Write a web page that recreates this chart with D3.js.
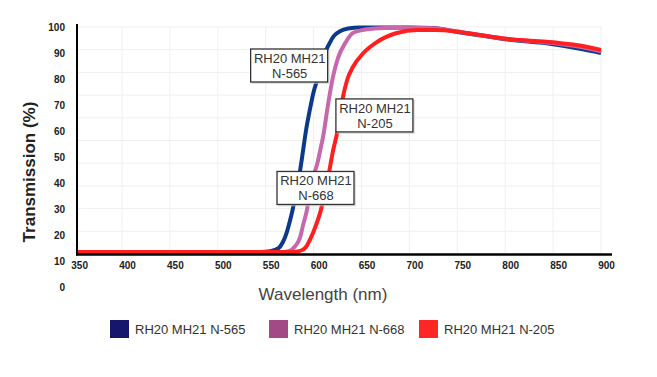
<!DOCTYPE html>
<html>
<head>
<meta charset="utf-8">
<script src="https://cdn.jsdelivr.net/npm/d3@7"></script>
<style>
  html, body { margin: 0; padding: 0; background: #fff; }
  svg { display: block; font-family: Arial, "Liberation Sans", sans-serif; }
</style>
</head>
<body>
<script>
// series names and colours
const seriesNames = ['RH20 MH21 N-565', 'RH20 MH21 N-668', 'RH20 MH21 N-205'];
const lineColors = ['#0b3a8c', '#c768ad', '#ff1f1f'];
const legendColors = ['#16166c', '#a34a86', '#ff2626'];

// wavelength (nm) / transmission (%)
const n565 = [[350,13.5],[545,13.5],[555,13.8],[563,14.8],[568,17.3],[572,21],[575,25],[578,29.5],[582,37],
  [586,45],[589,52.5],[592,60],[596,68],[600,75],[605,81],[609,86.5],[613,91],[617,94],[621,96.5],[628,98.5],
  [636,99.4],[648,99.8],[700,99.8],[725,99.6],[750,98.1],[775,96.7],[800,95.3],[850,93.4],[878,91.6],[900,90]];
const n668 = [[350,13.5],[568,13.5],[575,13.9],[580,15.4],[586,19.2],[589,23.8],[593,29.6],[596,36.5],[599,41.9],
  [603.5,46.9],[607,52.7],[610,58],[615,70],[620,80.4],[625.5,88.1],[633,93.8],[641,97.7],[654,99],[675,99.6],
  [700,99.7],[725,99.5],[750,98.3],[775,96.8],[800,95.5],[850,93.8],[878,92.4],[900,90.7]];
const n205 = [[350,13.5],[577,13.5],[586,13.9],[592,15.4],[597,18.8],[602.5,23.8],[607,28.8],[611,35],[616,43.8],
  [620,51.9],[624.5,59.2],[630,71.9],[635,79.6],[641,84.6],[652,90],[666,94.2],[687,97.7],[708,98.8],[727,98.8],
  [748,98.3],[774,96.9],[798,95.6],[850,94.1],[878,92.9],[900,91.2]];
const seriesData = [n565, n668, n205];

const xTicks = [350, 400, 450, 500, 550, 600, 650, 700, 750, 800, 850, 900];
const yTicks = [0, 10, 20, 30, 40, 50, 60, 70, 80, 90, 100];

// callout labels: [line1, line2, wavelength, transmission]
const callouts = [
  ['RH20 MH21', 'N-565', 575, 85],
  ['RH20 MH21', 'N-205', 664, 65.8],
  ['RH20 MH21', 'N-668', 602.5, 37.9]
];

const W = 657, H = 377;
const plotLeft = 77, plotRight = 612, plotTop = 27, plotBottom = 254;

const svg = d3.select('body').append('svg')
  .attr('width', W).attr('height', H);

const x = d3.scaleLinear().domain([350, 900]).range([74.1, 601]);
const y = d3.scaleLinear().domain([0, 100]).range([287, 27]);
const yGrid = d3.scaleLinear().domain([0, 10]).range([plotBottom, plotTop]);

// grid
const grid = svg.append('g').attr('stroke', '#efefef').attr('stroke-width', 1);
grid.selectAll('line.v').data(xTicks.slice(1)).join('line')
  .attr('x1', d => x(d)).attr('x2', d => x(d))
  .attr('y1', plotTop).attr('y2', plotBottom);
grid.selectAll('line.h').data(d3.range(1, 11)).join('line')
  .attr('x1', plotLeft).attr('x2', x(900))
  .attr('y1', d => yGrid(d)).attr('y2', d => yGrid(d));

// curves
svg.append('clipPath').attr('id', 'clip').append('rect')
  .attr('x', plotLeft).attr('y', 0).attr('width', plotRight - plotLeft).attr('height', plotBottom);

const line = d3.line().x(d => x(d[0])).y(d => y(d[1])).curve(d3.curveMonotoneX);
svg.append('g').attr('clip-path', 'url(#clip)')
  .selectAll('path').data(seriesData).join('path')
  .attr('d', line)
  .attr('fill', 'none')
  .attr('stroke', (d, i) => lineColors[i])
  .attr('stroke-width', 4)
  .attr('stroke-linejoin', 'round');

// axis lines
svg.append('line').attr('x1', plotLeft).attr('x2', plotLeft).attr('y1', 24).attr('y2', 255.5)
  .attr('stroke', '#000').attr('stroke-width', 2);
svg.append('line').attr('x1', plotLeft - 1).attr('x2', plotRight).attr('y1', 254.5).attr('y2', 254.5)
  .attr('stroke', '#000').attr('stroke-width', 2.5);

// tick labels
const xAxis = svg.append('g').attr('transform', 'translate(5,262)')
  .call(d3.axisBottom(x).tickValues(xTicks).tickSize(0).tickPadding(0));
xAxis.select('.domain').remove();
xAxis.selectAll('text').attr('font-size', 10).attr('font-weight', 'bold')
  .attr('fill', '#222').attr('font-family', 'Arial, "Liberation Sans", sans-serif');

const yAxis = svg.append('g').attr('transform', 'translate(65,0)')
  .call(d3.axisLeft(y).tickValues(yTicks).tickSize(0).tickPadding(0));
yAxis.select('.domain').remove();
yAxis.selectAll('text').attr('font-size', 10).attr('font-weight', 'bold')
  .attr('fill', '#222').attr('font-family', 'Arial, "Liberation Sans", sans-serif');

// axis titles
svg.append('text')
  .attr('x', 323).attr('y', 300).attr('text-anchor', 'middle')
  .attr('font-size', 17).attr('fill', '#444')
  .text('Wavelength (nm)');
svg.append('text')
  .attr('transform', 'translate(35,172) rotate(-90)')
  .attr('text-anchor', 'middle')
  .attr('font-size', 17).attr('font-weight', 'bold').attr('fill', '#222')
  .text('Transmission (%)');

// callouts
const cg = svg.selectAll('g.callout').data(callouts).join('g')
  .attr('class', 'callout')
  .attr('transform', d => `translate(${x(d[2])},${y(d[3])})`);
cg.append('rect')
  .attr('x', -38).attr('y', -16).attr('width', 78).attr('height', 34)
  .attr('fill', '#ccc').attr('opacity', 0.6);
cg.append('rect')
  .attr('x', -39).attr('y', -17).attr('width', 77).attr('height', 33)
  .attr('fill', '#fff').attr('stroke', '#333').attr('stroke-width', 1.3);
cg.append('text').attr('text-anchor', 'middle').attr('y', -3)
  .attr('font-size', 13).attr('fill', '#333').text(d => d[0]);
cg.append('text').attr('text-anchor', 'middle').attr('y', 12)
  .attr('font-size', 13).attr('fill', '#333').text(d => d[1]);

// legend
const legendX = [110, 269, 419];
const lg = svg.selectAll('g.legend').data(seriesNames).join('g')
  .attr('class', 'legend')
  .attr('transform', (d, i) => `translate(${legendX[i]},320)`);
lg.append('rect').attr('width', 19).attr('height', 18)
  .attr('fill', (d, i) => legendColors[i]);
lg.append('text').attr('x', 25).attr('y', 14)
  .attr('font-size', 13).attr('fill', '#333').text(d => d);
</script>
</body>
</html>
